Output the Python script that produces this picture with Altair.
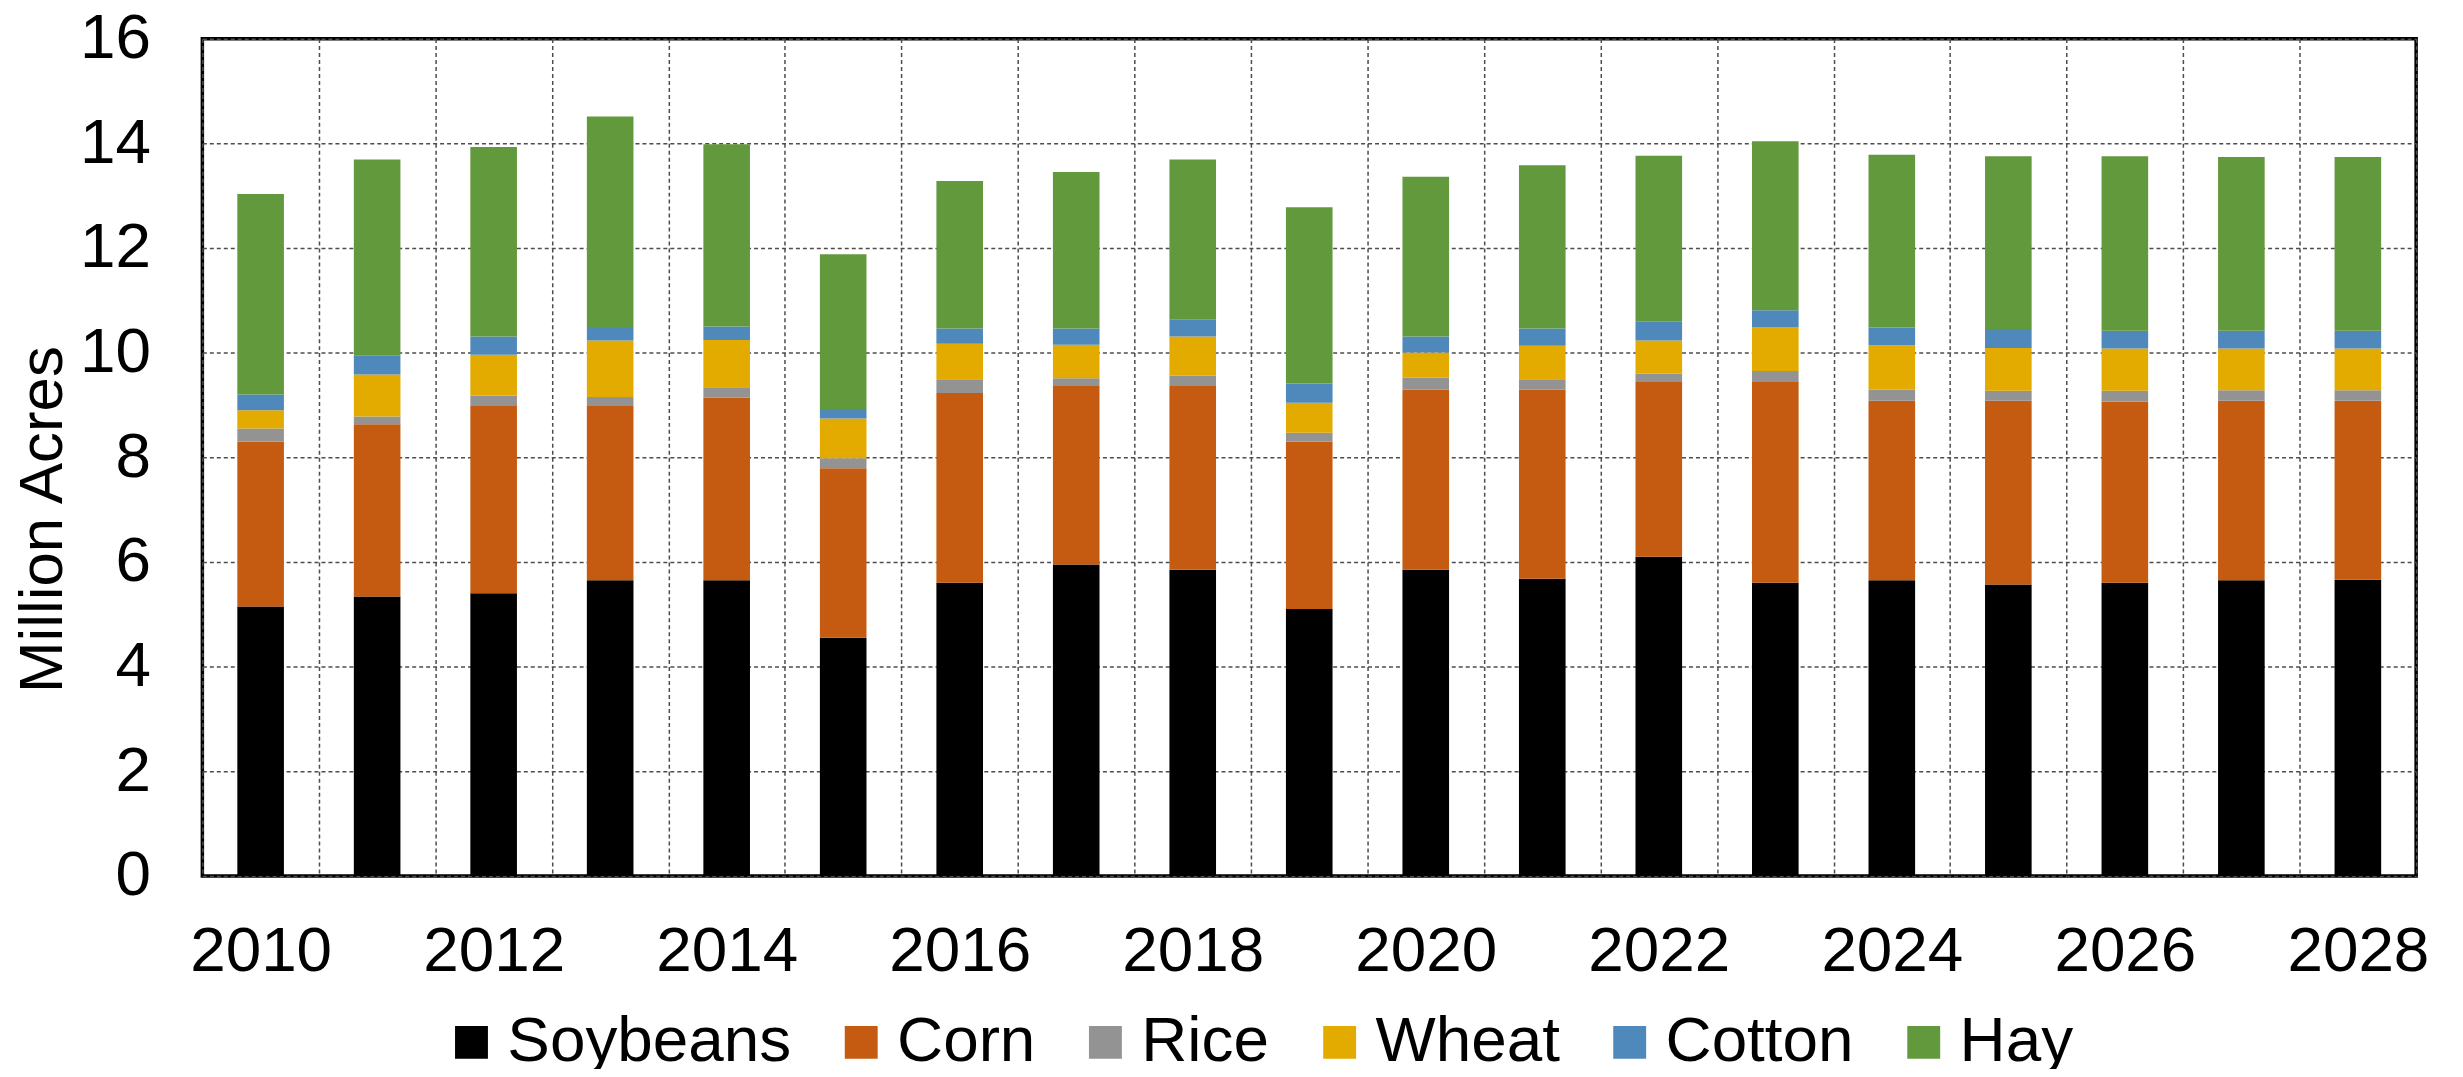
import altair as alt
import pandas as pd

years = list(range(2010, 2029))
crops = ["Soybeans", "Corn", "Rice", "Wheat", "Cotton", "Hay"]
colors = ["#000000", "#C55A11", "#939393", "#E3AB00", "#4F88BB", "#63993D"]

soybeans = [5.15, 5.34, 5.40, 5.65, 5.65, 4.55, 5.60, 5.95, 5.85, 5.10, 5.85, 5.68, 6.10, 5.60, 5.65, 5.57, 5.60, 5.65, 5.66]
corn = [3.15, 3.29, 3.58, 3.33, 3.49, 3.24, 3.63, 3.41, 3.51, 3.20, 3.44, 3.61, 3.34, 3.84, 3.43, 3.51, 3.46, 3.43, 3.42]
rice = [0.25, 0.15, 0.20, 0.17, 0.20, 0.19, 0.26, 0.15, 0.20, 0.17, 0.23, 0.20, 0.16, 0.21, 0.21, 0.19, 0.21, 0.20, 0.20]
wheat = [0.35, 0.80, 0.78, 1.08, 0.90, 0.76, 0.68, 0.64, 0.75, 0.57, 0.48, 0.64, 0.63, 0.83, 0.85, 0.82, 0.81, 0.80, 0.80]
cotton = [0.30, 0.37, 0.35, 0.26, 0.26, 0.18, 0.29, 0.31, 0.32, 0.37, 0.31, 0.33, 0.36, 0.33, 0.34, 0.34, 0.34, 0.34, 0.34]
hay = [3.83, 3.74, 3.62, 4.02, 3.48, 2.96, 2.82, 2.99, 3.06, 3.37, 3.05, 3.12, 3.17, 3.23, 3.30, 3.32, 3.33, 3.32, 3.32]
y_ticks = [0, 2, 4, 6, 8, 10, 12, 14, 16]

series = [soybeans, corn, rice, wheat, cotton, hay]
rows = []
for ci, (crop, vals) in enumerate(zip(crops, series)):
    for yr, v in zip(years, vals):
        rows.append({"Year": yr, "Crop": crop, "Acres": v, "order": ci})
df = pd.DataFrame(rows)

FONT = "Liberation Sans"

chart = alt.Chart(df).mark_bar(width=alt.RelativeBandSize(0.4)).encode(
    x=alt.X("Year:O",
            scale=alt.Scale(paddingInner=0, paddingOuter=0),
            axis=alt.Axis(title=None, labelAngle=0, labelFontSize=64, labelFont=FONT,
                          labelColor="#000000", labelPadding=44, ticks=False, tickSize=0,
                          domain=False, grid=True, tickBand="extent",
                          gridDash=[4, 3], gridColor="#4d4d4d", gridWidth=1.5,
                          labelOverlap=False,
                          labelExpr="datum.value % 2 == 0 ? datum.label : ''")),
    y=alt.Y("Acres:Q",
            stack="zero",
            scale=alt.Scale(domain=[0, 16], nice=False),
            axis=alt.Axis(title="Million Acres", values=y_ticks, labelFontSize=64,
                          labelFont=FONT, labelColor="#000000", labelPadding=52,
                          ticks=False, tickSize=0, domain=False, grid=True,
                          gridDash=[4, 3], gridColor="#4d4d4d", gridWidth=1.5,
                          titleFont=FONT, titleFontSize=62, titleFontWeight="normal",
                          titleColor="#000000", titleAngle=-90, titleAlign="center",
                          titleBaseline="alphabetic", titleX=-141, titleY=482)),
    color=alt.Color("Crop:N",
                    scale=alt.Scale(domain=crops, range=colors),
                    legend=alt.Legend(title=None, orient="none", direction="horizontal",
                                      legendX=238, legendY=975, columns=6,
                                      symbolType="square", symbolSize=1089,
                                      symbolStrokeWidth=0, labelFontSize=64,
                                      labelFont=FONT, labelColor="#000000",
                                      labelOffset=4, columnPadding=38, padding=0,
                                      labelLimit=1000)),
    order=alt.Order("order:Q", sort="ascending"),
).properties(
    width=2221,
    height=840,
    autosize=alt.AutoSizeParams(type="none"),
    padding={"left": 195, "top": 29, "right": 39, "bottom": 192},
).configure_view(
    stroke="#000000", strokeWidth=3.5
)

chart.save("out.html", embed_options={"renderer": "svg", "actions": False})
